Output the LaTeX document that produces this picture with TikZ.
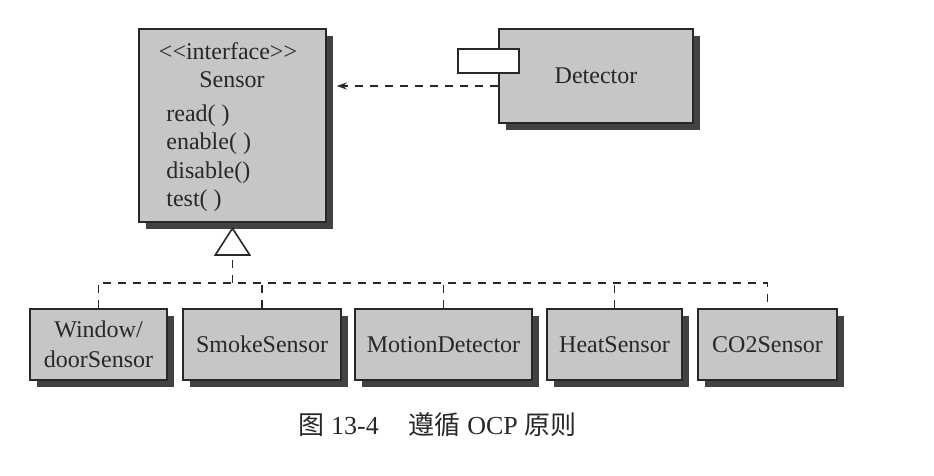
\documentclass[tikz,border=0pt]{standalone}
\usepackage{fontspec}
\setmainfont{Liberation Serif}
\newfontfamily\cjk{Noto Sans CJK SC}
\usetikzlibrary{arrows.meta,shadows}
\definecolor{boxgray}{RGB}{198,198,198}
\definecolor{shadegray}{RGB}{66,66,66}
\definecolor{linegray}{RGB}{40,40,40}
\tikzset{
  umlbox/.style={draw=linegray,fill=boxgray,line width=0.8pt,inner sep=0pt,
    drop shadow={shadow xshift=3.5pt,shadow yshift=-3.5pt,fill=shadegray,opacity=1},
    font=\fontsize{12}{15}\selectfont,text=linegray,align=center},
  lbl/.style={inner sep=0pt,font=\fontsize{12}{15}\selectfont,text=linegray},
  dep/.style={draw=linegray,line width=0.8pt,dash pattern=on 4pt off 3.5pt},
}
\begin{document}
\begin{tikzpicture}[x=0.5pt,y=-0.5pt]
\useasboundingbox (0,0) rectangle (934,476);
% interface and its client
\node[umlbox,minimum width=93.5pt,minimum height=96.5pt] (sensor) at (232.5,125.5) {};
\node[lbl,anchor=base] (iface) at (228,60) {<{}<interface>{}>};
\node[lbl,anchor=base] (sname) at (232,88) {Sensor};
\foreach \m/\y [count=\i] in {read( )/122,enable( )/150,disable()/179,test( )/207}
  \node[lbl,anchor=base west] (op\i) at (166,\y) {\m};
\node[umlbox,minimum width=97pt,minimum height=47pt] (det) at (596,76) {Detector};
\node[draw=linegray,fill=white,line width=0.8pt,minimum width=30.5pt,minimum height=12pt,inner sep=0pt] (port) at (488.5,61) {};
\coordinate (dp) at ([yshift=-5pt]det.west);
\coordinate (tip) at ([xshift=5pt]sensor.east);
\draw[dep,-{Stealth[length=5pt,width=3.5pt]}] (dp) -- (tip |- dp);
% implementations
\node[umlbox,minimum width=68.5pt,minimum height=35.5pt] (win) at (98.5,344.5) {Window/\\doorSensor};
\node[umlbox,minimum width=79pt,minimum height=35.5pt] (smoke) at (262,344.5) {SmokeSensor};
\node[umlbox,minimum width=88.5pt,minimum height=35.5pt] (motion) at (443.5,344.5) {MotionDetector};
\node[umlbox,minimum width=67.5pt,minimum height=35.5pt] (heat) at (614.5,344.5) {HeatSensor};
\node[umlbox,minimum width=69.5pt,minimum height=35.5pt] (co2) at (767.5,344.5) {CO2Sensor};
\coordinate (hub) at (sensor.south |- 0,283);
\draw[dep,-{Triangle[open,length=14.5pt,width=18.5pt,line width=0.8pt]}] (hub) -- ([yshift=-2pt]sensor.south);
\draw[dep] (win.north) |- (hub) -| (co2.north);
\foreach \n in {smoke,motion,heat}
  \draw[dep] (\n.north) -- (\n.north |- hub);
\node[lbl,font=\fontsize{13}{15}\selectfont] (cap) at (437.5,425) {{\cjk 图} 13-4\hspace{15pt}{\cjk 遵循} OCP {\cjk 原则}};
\end{tikzpicture}
\end{document}
